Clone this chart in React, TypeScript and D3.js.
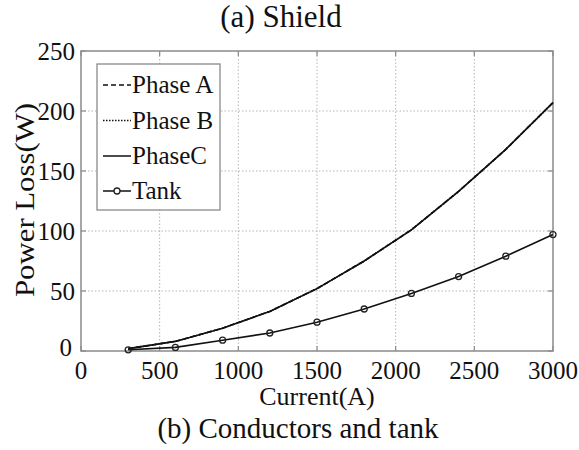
import React from "react";
import * as d3 from "d3";

// Measured currents (A) and losses (W)
const currents = [300, 600, 900, 1200, 1500, 1800, 2100, 2400, 2700, 3000];
const phaseA = [2, 8, 19, 33, 52, 75, 101, 133, 168, 207];
const phaseB = [2, 8, 19, 33, 52, 75, 101, 133, 168, 207];
const phaseC = [2, 8, 19, 33, 52, 75, 101, 133, 168, 207];
const tank = [1, 3, 9, 15, 24, 35, 48, 62, 79, 97];

const xTicks = [0, 500, 1000, 1500, 2000, 2500, 3000];
const yTicks = [0, 50, 100, 150, 200, 250];

const legendItems = ["Phase A", "Phase B", "PhaseC", "Tank"];

const W = 579;
const H = 450;
const FONT = "'Liberation Serif', 'Times New Roman', serif";

export default function App() {
  const x = d3.scaleLinear().domain([0, 3000]).range([81, 553]);
  const y = d3.scaleLinear().domain([0, 250]).range([351, 51]);

  const line = d3
    .line<number>()
    .x((_, i) => x(currents[i]))
    .y((d) => y(d));

  const [x0, x1] = x.range();
  const [y0, y1] = y.range();
  const frame = "#8a8a8a";
  const grid = "#b5b5b5";

  const legendX = 97;
  const legendY = 64;
  const legendW = 123;
  const legendH = 146;
  const rowBase = [93, 128.5, 164, 199];

  return (
    <svg
      width={W}
      height={H}
      style={{ position: "absolute", left: 0, top: 0, background: "#fff", fontFamily: FONT }}
    >
      <rect width={W} height={H} fill="#fff" />
      {/* grid */}
      {xTicks.slice(1, -1).map((t) => (
        <line key={"gx" + t} x1={x(t)} x2={x(t)} y1={y0} y2={y1} stroke={grid} strokeWidth={1} strokeDasharray="1.5,2" />
      ))}
      {yTicks.slice(1, -1).map((t) => (
        <line key={"gy" + t} x1={x0} x2={x1} y1={y(t)} y2={y(t)} stroke={grid} strokeWidth={1} strokeDasharray="1.5,2" />
      ))}
      {/* inward ticks on all four sides */}
      {xTicks.map((t) => (
        <g key={"tx" + t}>
          <line x1={x(t)} x2={x(t)} y1={y0} y2={y0 - 5} stroke={frame} strokeWidth={1.2} />
          <line x1={x(t)} x2={x(t)} y1={y1} y2={y1 + 5} stroke={frame} strokeWidth={1.2} />
        </g>
      ))}
      {yTicks.map((t) => (
        <g key={"ty" + t}>
          <line x1={x0} x2={x0 + 5} y1={y(t)} y2={y(t)} stroke={frame} strokeWidth={1.2} />
          <line x1={x1} x2={x1 - 5} y1={y(t)} y2={y(t)} stroke={frame} strokeWidth={1.2} />
        </g>
      ))}
      <rect x={x0} y={y1} width={x1 - x0} height={y0 - y1} fill="none" stroke={frame} strokeWidth={1.5} />

      {/* series */}
      <path d={line(phaseA) || ""} fill="none" stroke="#111" strokeWidth={1.6} strokeDasharray="5,3" />
      <path d={line(phaseB) || ""} fill="none" stroke="#111" strokeWidth={1.6} strokeDasharray="1.5,1.5" />
      <path d={line(phaseC) || ""} fill="none" stroke="#111" strokeWidth={1.6} />
      <path d={line(tank) || ""} fill="none" stroke="#111" strokeWidth={1.6} />
      {tank.map((v, i) => (
        <circle key={"m" + i} cx={x(currents[i])} cy={y(v)} r={3} fill="none" stroke="#222" strokeWidth={1.3} />
      ))}

      {/* tick labels */}
      {xTicks.map((t) => (
        <text key={"lx" + t} x={x(t)} y={379} fontSize={25} textAnchor="middle" fill="#111">
          {t}
        </text>
      ))}
      {yTicks.map((t) => (
        <text key={"ly" + t} x={t === 0 ? 72 : 75} y={y(t) + (t === 0 ? 5 : 8.5)} fontSize={25} textAnchor="end" fill="#111">
          {t}
        </text>
      ))}

      {/* legend */}
      <rect x={legendX} y={legendY} width={legendW} height={legendH} fill="#fff" stroke={frame} strokeWidth={1.3} />
      {legendItems.map((name, i) => {
        const cy = rowBase[i] - 8;
        const dash = i === 0 ? "5,3" : i === 1 ? "1.5,1.5" : undefined;
        return (
          <g key={name}>
            <line x1={103} x2={131} y1={cy} y2={cy} stroke="#111" strokeWidth={1.5} strokeDasharray={dash} />
            {i === 3 && <circle cx={117} cy={cy} r={3} fill="#fff" stroke="#222" strokeWidth={1.3} />}
            <text x={132} y={rowBase[i]} fontSize={25} fill="#111">
              {name}
            </text>
          </g>
        );
      })}

      {/* titles */}
      <text x={281} y={27} fontSize={31} textAnchor="middle" fill="#111">
        (a) Shield
      </text>
      <text x={317} y={405} fontSize={26} textAnchor="middle" fill="#111">
        Current(A)
      </text>
      <text x={298} y={438} fontSize={29} textAnchor="middle" fill="#111">
        (b) Conductors and tank
      </text>
      <text
        transform="translate(34,200) rotate(-90)"
        fontSize={27}
        textAnchor="middle"
        fill="#111"
        textLength={194}
        lengthAdjust="spacingAndGlyphs"
      >
        Power Loss(W)
      </text>
    </svg>
  );
}
